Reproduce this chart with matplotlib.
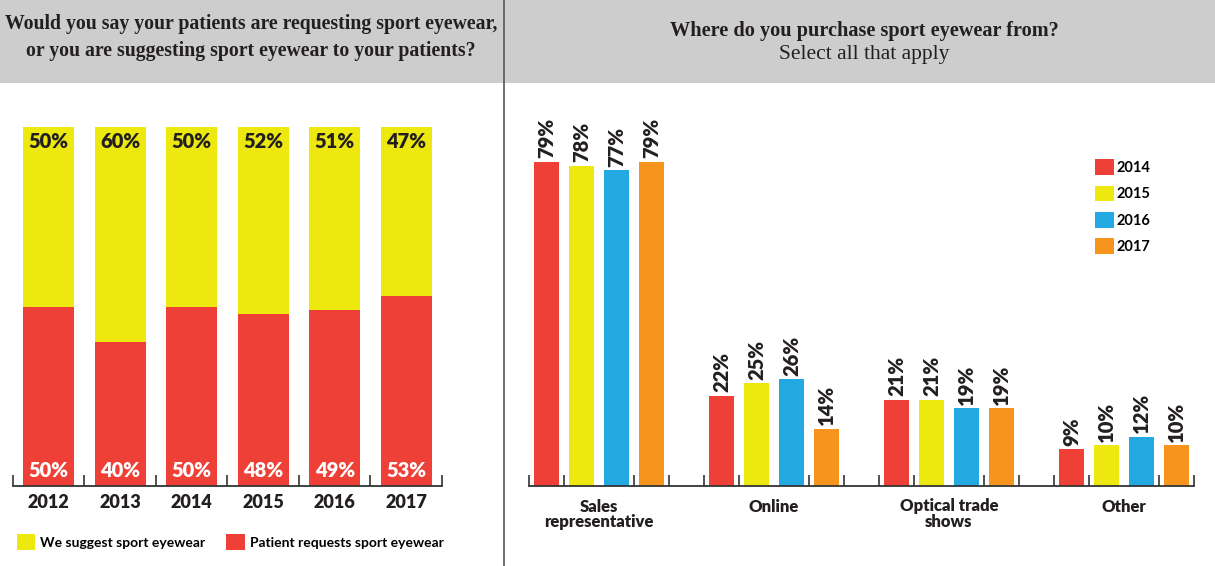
import matplotlib
matplotlib.use("Agg")
import matplotlib.pyplot as plt
from matplotlib.patches import Rectangle
from matplotlib.lines import Line2D

# left chart: who initiates sport eyewear
years = ['2012', '2013', '2014', '2015', '2016', '2017']
patient_requests = [50, 40, 50, 48, 49, 53]
we_suggest = [50, 60, 50, 52, 51, 47]

# right chart: where sport eyewear is purchased
sources = ['Sales\nrepresentative', 'Online', 'Optical trade\nshows', 'Other']
survey_years = ['2014', '2015', '2016', '2017']
purchase = {
    '2014': [79, 22, 21, 9],
    '2015': [78, 25, 21, 10],
    '2016': [77, 26, 19, 12],
    '2017': [79, 14, 19, 10],
}

RED = '#ee4037'
YELLOW = '#ede90f'
BLUE = '#23a9e1'
ORANGE = '#f7941e'
year_colors = [RED, YELLOW, BLUE, ORANGE]

W, H = 1215, 566
SANS = ['Lato', 'DejaVu Sans']
SERIF = ['Liberation Serif', 'DejaVu Serif']
INK = '#231f20'


def fx(px):
    return px / W


def fy(px):
    return 1 - px / H


fig = plt.figure(figsize=(W / 100, H / 100), dpi=100)
fig.patch.set_facecolor('white')

# grey header band and divider
fig.patches.append(Rectangle((0, fy(83)), 1, 83 / H, transform=fig.transFigure,
                             facecolor='#cdcdcd', edgecolor='none', zorder=0))
fig.lines.append(Line2D([fx(503.5), fx(503.5)], [0, 1], transform=fig.transFigure,
                        color='#555555', linewidth=1.2, zorder=1))

fig.text(fx(251), fy(24), 'Would you say your patients are requesting sport eyewear,',
         ha='center', va='center', fontsize=14.2, fontweight='bold', family=SERIF, color=INK)
fig.text(fx(251), fy(51), 'or you are suggesting sport eyewear to your patients?',
         ha='center', va='center', fontsize=14.2, fontweight='bold', family=SERIF, color=INK)
fig.text(fx(864), fy(31), 'Where do you purchase sport eyewear from?',
         ha='center', va='center', fontsize=14.6, fontweight='bold', family=SERIF, color=INK)
fig.text(fx(864), fy(54), 'Select all that apply',
         ha='center', va='center', fontsize=15.5, family=SERIF, color=INK)


def style_axis(ax, edges, centers, labels, pad, size):
    for s in ['top', 'left', 'right']:
        ax.spines[s].set_visible(False)
    ax.spines['bottom'].set_color('#333333')
    ax.spines['bottom'].set_linewidth(1.3)
    ax.set_yticks([])
    ax.set_xticks(centers)
    ax.set_xticklabels(labels, fontsize=size, fontweight='heavy', family=SANS, color=INK,
                       linespacing=0.95)
    ax.tick_params(axis='x', which='major', length=0, pad=pad)
    ax.set_xticks(edges, minor=True)
    ax.tick_params(axis='x', which='minor', direction='in', length=8, width=1.2, color='#333333')
    ax.patch.set_alpha(0)


# ---- left stacked bars
axl = fig.add_axes([fx(13), fy(486), fx(429), 359 / H])
xs = list(range(len(years)))
axl.bar(xs, patient_requests, width=0.71, color=RED, label='Patient requests sport eyewear')
axl.bar(xs, we_suggest, width=0.71, bottom=patient_requests, color=YELLOW,
        label='We suggest sport eyewear')
axl.set_xlim(-0.5, len(years) - 0.5)
axl.set_ylim(0, 100)
style_axis(axl, [x - 0.5 for x in range(len(years) + 1)], xs, years, pad=6, size=13)
for x, r, s in zip(xs, patient_requests, we_suggest):
    axl.text(x, 100 - 4.0, f'{s}%', ha='center', va='center', fontsize=14.5,
             fontweight='heavy', family=SANS, color=INK)
    axl.text(x, 4.4, f'{r}%', ha='center', va='center', fontsize=14.5,
             fontweight='heavy', family=SANS, color='white')

handles, labs = axl.get_legend_handles_labels()
fig.legend(handles[::-1], labs[::-1], loc='center left', bbox_to_anchor=(fx(4), fy(542)),
           ncol=2, frameon=False, handlelength=1.35, handleheight=1.35, handletextpad=0.35,
           columnspacing=1.5, prop={'family': SANS, 'size': 10, 'weight': 'bold'})

# ---- right grouped bars
axr = fig.add_axes([fx(529), fy(486), fx(665), 349 / H])
nslots = len(sources) * 5 - 1
for j, yr in enumerate(survey_years):
    pos = [g * 5 + j + 0.5 for g in range(len(sources))]
    vals = purchase[yr]
    axr.bar(pos, vals, width=0.71, color=year_colors[j], label=yr)
    for p, v in zip(pos, vals):
        axr.text(p, v + 0.8, f'{v}%', rotation=90, ha='center', va='bottom', fontsize=14.5,
                 fontweight='heavy', family=SANS, color=INK)
axr.set_xlim(0, nslots)
axr.set_ylim(0, 85)
style_axis(axr, list(range(nslots + 1)), [g * 5 + 2 for g in range(len(sources))], sources,
           pad=9, size=12)
axr.legend(loc='upper left', bbox_to_anchor=(fx(1082 - 529) / fx(665), (486 - 146) / 349),
           frameon=False, handlelength=1.3, handleheight=1.3, handletextpad=0.15,
           labelspacing=0.72, prop={'family': SANS, 'size': 10.5, 'weight': 'bold'})

fig.savefig('out.png', dpi=100, facecolor='white')
